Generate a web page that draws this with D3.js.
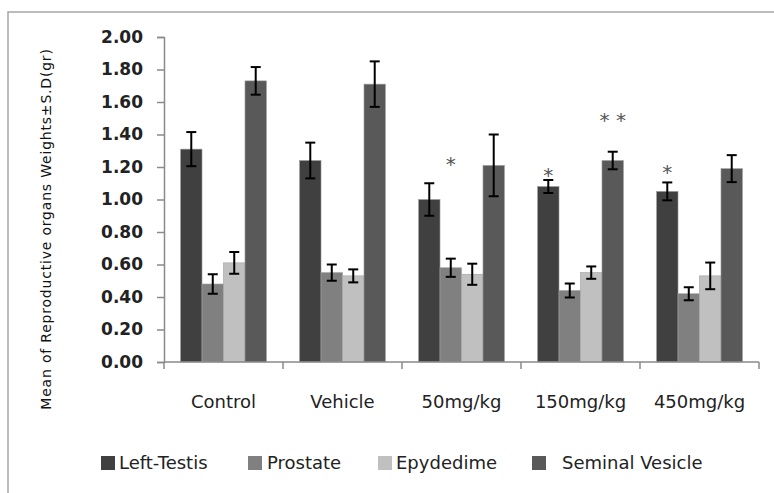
<!doctype html>
<meta charset="utf-8" />
<style>
    body { margin: 0; background: #fff; }
    text { font-family: "DejaVu Sans", sans-serif; }
</style>
<svg></svg>

<script src="https://cdn.jsdelivr.net/npm/d3@7"></script>

<script>
    var groups = ['Control', 'Vehicle', '50mg/kg', '150mg/kg', '450mg/kg'];
    var series = ['Left-Testis', 'Prostate', 'Epydedime', 'Seminal Vesicle'];
    var colors = ['#404040', '#808080', '#c0c0c0', '#595959'];

    // means per series, one value per group
    var leftTestis = [1.31, 1.24, 1.00, 1.08, 1.05];
    var prostate = [0.48, 0.55, 0.58, 0.44, 0.42];
    var epydedime = [0.61, 0.53, 0.54, 0.55, 0.53];
    var seminal = [1.73, 1.71, 1.21, 1.24, 1.19];

    // standard deviations
    var leftTestisSD = [0.105, 0.11, 0.10, 0.04, 0.055];
    var prostateSD = [0.06, 0.05, 0.056, 0.043, 0.04];
    var epydedimeSD = [0.067, 0.04, 0.065, 0.038, 0.082];
    var seminalSD = [0.085, 0.14, 0.19, 0.054, 0.083];

    var yTicks = [0, 0.2, 0.4, 0.6, 0.8, 1.0, 1.2, 1.4, 1.6, 1.8, 2.0];

    // significance marks: group, series, label, height (data units)
    var marks = [
        { group: '50mg/kg', series: 'Prostate', label: '*', y: 1.24 },
        { group: '150mg/kg', series: 'Left-Testis', label: '*', y: 1.17 },
        { group: '150mg/kg', series: 'Seminal Vesicle', label: '* *', y: 1.51 },
        { group: '450mg/kg', series: 'Left-Testis', label: '*', y: 1.19 }
    ];

    var means = [leftTestis, prostate, epydedime, seminal];
    var sds = [leftTestisSD, prostateSD, epydedimeSD, seminalSD];

    var W = 774, H = 493;
    var svg = d3.select('svg')
        .attr('width', W)
        .attr('height', H)

    // outer frame
    svg.append('rect')
        .attr('x', 8).attr('y', 12)
        .attr('width', 800).attr('height', 520)
        .style('fill', 'none')
        .style('stroke', '#a6a6a6')
        .style('stroke-width', 1.5)

    var plotLeft = 164, plotRight = 759, plotTop = 37, plotBottom = 362;

    var x0 = d3.scaleBand().domain(groups).range([plotLeft, plotRight]);
    var x1 = d3.scaleBand().domain(series).range([0, x0.bandwidth()])
        .paddingInner(0).paddingOuter(0.77);
    var y = d3.scaleLinear().domain([0, 2]).range([plotBottom, plotTop]);

    var color = d3.scaleOrdinal().domain(series).range(colors);

    var rows = [];
    groups.forEach(function (g, gi) {
        series.forEach(function (s, si) {
            rows.push({ group: g, series: s, value: means[si][gi], sd: sds[si][gi] });
        });
    });

    // bars
    svg.append('g').selectAll('rect')
        .data(rows)
        .join('rect')
        .attr('x', function (d) { return x0(d.group) + x1(d.series); })
        .attr('y', function (d) { return y(d.value); })
        .attr('width', x1.bandwidth())
        .attr('height', function (d) { return y(0) - y(d.value); })
        .style('fill', function (d) { return color(d.series); })
        .style('stroke', '#a0a0a0')
        .style('stroke-width', 0.6)

    // error bars
    var eb = svg.append('g').style('stroke', '#000').style('stroke-width', 2);
    rows.forEach(function (d) {
        var cx = x0(d.group) + x1(d.series) + x1.bandwidth() / 2;
        var y1 = y(d.value + d.sd), y2 = y(d.value - d.sd);
        eb.append('line').attr('x1', cx).attr('x2', cx).attr('y1', y1).attr('y2', y2);
        eb.append('line').attr('x1', cx - 5).attr('x2', cx + 5).attr('y1', y1).attr('y2', y1);
        eb.append('line').attr('x1', cx - 5).attr('x2', cx + 5).attr('y1', y2).attr('y2', y2);
    });

    // y axis
    var yAxis = svg.append('g')
        .attr('transform', 'translate(' + plotLeft + ',0)')
        .call(d3.axisLeft(y).tickValues(yTicks).tickFormat(d3.format('.2f')).tickSize(7).tickPadding(14));
    yAxis.select('.domain').style('stroke', '#8a8a8a').style('stroke-width', 1.5);
    yAxis.selectAll('.tick line').style('stroke', '#8a8a8a').style('stroke-width', 1.5);
    yAxis.selectAll('text')
        .style('font-family', '"DejaVu Sans", sans-serif')
        .style('font-size', '17px')
        .style('font-weight', 'bold')
        .style('fill', '#222')

    // x axis with boundary ticks
    var xAxis = svg.append('g').attr('transform', 'translate(0,' + plotBottom + ')');
    xAxis.append('line')
        .attr('x1', plotLeft).attr('x2', plotRight)
        .style('stroke', '#8a8a8a').style('stroke-width', 1.5)
    var bounds = groups.map(function (g) { return x0(g); }).concat([plotRight]);
    xAxis.selectAll('line.b')
        .data(bounds)
        .join('line')
        .attr('class', 'b')
        .attr('x1', function (d) { return d; }).attr('x2', function (d) { return d; })
        .attr('y1', 0).attr('y2', 7)
        .style('stroke', '#8a8a8a').style('stroke-width', 1.5)
    xAxis.selectAll('text')
        .data(groups)
        .join('text')
        .attr('x', function (d) { return x0(d) + x0.bandwidth() / 2; })
        .attr('y', 46)
        .attr('text-anchor', 'middle')
        .style('font-size', '18px')
        .style('fill', '#222')
        .text(function (d) { return d; })

    // significance marks
    svg.append('g').selectAll('text')
        .data(marks)
        .join('text')
        .attr('x', function (d) { return x0(d.group) + x1(d.series) + x1.bandwidth() / 2; })
        .attr('y', function (d) { return y(d.y) + 10; })
        .attr('text-anchor', 'middle')
        .style('font-size', '20px')
        .style('fill', '#555')
        .text(function (d) { return d.label; })

    // y title
    svg.append('text')
        .attr('transform', 'translate(51,229) rotate(-90)')
        .attr('text-anchor', 'middle')
        .style('font-size', '14px')
        .style('letter-spacing', '0.8px')
        .style('fill', '#111')
        .text('Mean of Reproductive organs Weights\u00b1S.D(gr)')

    // legend
    var legendX = [101, 248, 378, 532];
    var labelX = [119, 267, 396, 562];
    var lg = svg.append('g');
    series.forEach(function (s, i) {
        lg.append('rect')
            .attr('x', legendX[i]).attr('y', 456)
            .attr('width', 14).attr('height', 14)
            .style('fill', color(s))
        lg.append('text')
            .attr('x', labelX[i]).attr('y', 469)
            .style('font-size', '18px')
            .style('fill', '#222')
            .text(s)
    });
</script>
